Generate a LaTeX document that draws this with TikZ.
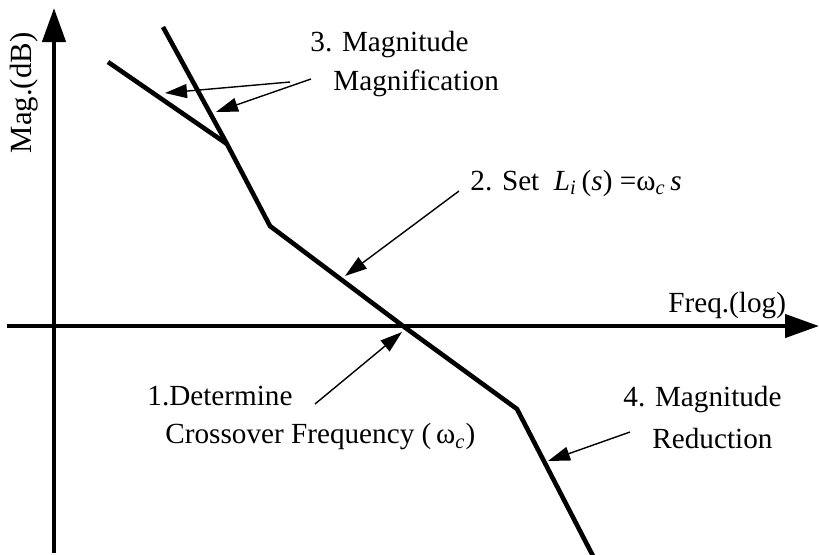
\documentclass[tikz,border=0pt]{standalone}
\usepackage{fontspec}
\setmainfont{Liberation Serif}
\usetikzlibrary{arrows.meta}
\begin{document}
\begin{tikzpicture}[x=.5pt,y=-.5pt,
  axis/.style={line width=2.2pt,-{Triangle[length=17pt,width=11.5pt]}},
  curve/.style={line width=2.3pt,line join=miter},
  pointer/.style={line width=.7pt,-{Triangle[length=11pt,width=7pt]}},
  lbl/.style={font=\fontsize{14.6}{16}\selectfont,inner sep=0pt,anchor=west}]
\useasboundingbox (0,0) rectangle (819,554);

% axes
\coordinate (ylo) at (54,553);
\coordinate (yhi) at (54,8);
\coordinate (xlo) at (7,326);
\coordinate (xhi) at (819,326);
\draw[axis] (ylo) -- (yhi);
\draw[axis] (xlo) -- (xhi);
\node[lbl,anchor=south west] (frq) at (668,319) {Freq.(log)};
\node[lbl,anchor=center,rotate=90,font=\fontsize{15.4}{16}\selectfont] (mag) at (24,93) {Mag.(dB)};

% asymptotes
\coordinate (a0) at (108,62);
\coordinate (b0) at (163,27);
\coordinate (k1) at (227,144);
\coordinate (k2) at (270,226);
\coordinate (wc) at (403,326);
\coordinate (k3) at (517,409);
\coordinate (e) at (593,556);
\draw[curve] (a0) -- (k1);
\draw[curve] (b0) -- (k1) -- (k2) -- (wc) -- (k3) -- (e);

% steps
\node[lbl] (s1a) at (147,396) {1.Determine};
\node[lbl] (s1b) at (165,437) {Crossover Frequency (\,ω\textsubscript{\itshape c})};
\node[lbl] (s2) at (470,183) {2. Set\ \ {\itshape L}\textsubscript{\itshape i}\,({\itshape s}) =ω\textsubscript{\itshape c}\,{\itshape s}};
\node[lbl] (s3a) at (310,45) {3. Magnitude};
\node[lbl] (s3b) at (333,83) {Magnification};
\node[lbl] (s4a) at (623,400) {4. Magnitude};
\node[lbl] (s4b) at (652,438) {Reduction};

% pointers
\coordinate (t1) at (315,404);
\coordinate (p1) at (402,332);
\coordinate (t2) at (459,191);
\coordinate (p2) at (345,276);
\coordinate (t3a) at (290,82);
\coordinate (p3a) at (165,93);
\coordinate (t3b) at (311,79);
\coordinate (p3b) at (216,112);
\coordinate (t4) at (630,432);
\coordinate (p4) at (548,461);
\draw[pointer] (t1) -- (p1);
\draw[pointer] (t2) -- (p2);
\draw[pointer] (t3a) -- (p3a);
\draw[pointer] (t3b) -- (p3b);
\draw[pointer] (t4) -- (p4);
\end{tikzpicture}
\end{document}
